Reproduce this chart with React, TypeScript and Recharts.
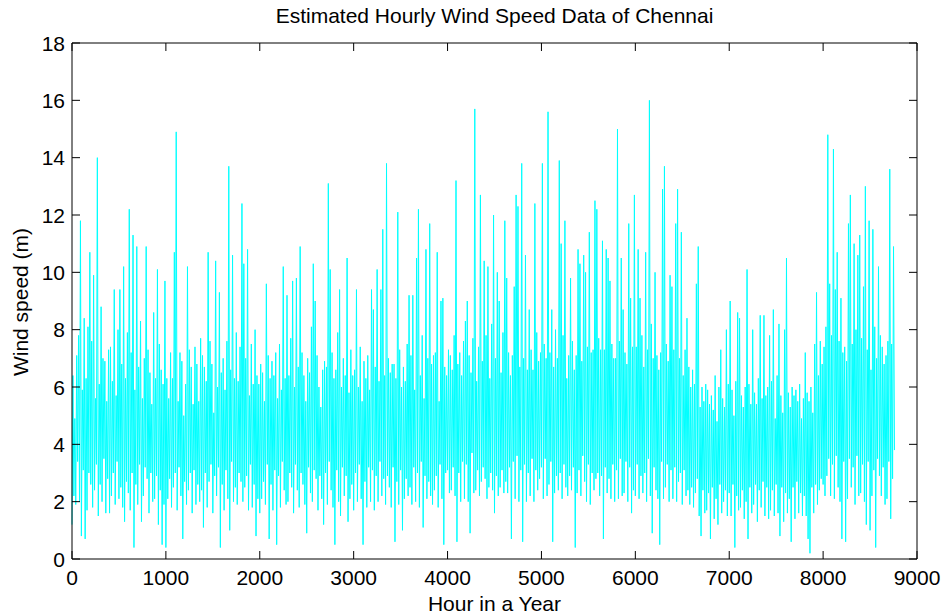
import { LineChart, Line, XAxis, YAxis, ReferenceLine } from 'recharts';

// one reading every 10 hours (peaks and dips placed where they show)
const STEP_HOURS = 10;

const speedH0000 = [
  1.2, 6.4, 2.2, 4.9, 1.9, 7.1, 3.4, 7.8, 2.0, 11.8, 0.8, 5.9, 3.1, 8.4, 0.7, 6.3, 1.7, 8.1, 3.0, 10.7,
  2.6, 7.6, 1.8, 9.9, 2.4, 5.6, 3.3, 14.0, 1.5, 6.1, 2.6, 8.8, 2.0, 7.0, 3.5, 6.9, 1.6, 5.5, 2.8, 7.3,
  1.6, 7.4, 2.2, 6.2, 3.0, 9.4, 1.9, 5.7, 3.4, 8.0, 2.1, 9.4, 2.5, 6.8, 1.8, 10.2, 1.3, 6.3, 2.7, 7.9,
  2.3, 12.2, 1.7, 7.2, 3.0, 11.3, 0.4, 5.9, 2.6, 10.9, 1.9, 6.7, 3.3, 8.3, 1.3, 5.6, 2.2, 7.0, 3.2, 10.9,
  2.8, 7.3, 1.6, 6.5, 3.0, 5.4, 2.0, 8.6, 2.1, 6.3, 2.9, 10.1, 1.2, 7.5, 2.4, 6.6, 0.5, 6.1, 1.9, 9.7,
];
const speedH1000 = [
  0.4, 6.3, 2.1, 5.6, 2.8, 7.2, 1.8, 6.3, 2.5, 10.7, 3.0, 14.9, 1.7, 5.5, 3.2, 7.2, 2.2, 6.9, 0.7, 5.0,
  2.7, 6.1, 1.9, 10.2, 2.4, 7.3, 3.0, 6.7, 1.6, 5.4, 3.1, 7.4, 1.9, 6.8, 2.6, 5.5, 2.0, 7.7, 2.4, 7.1,
  1.1, 6.7, 3.0, 6.2, 1.8, 10.7, 2.7, 7.6, 3.3, 6.8, 1.6, 5.1, 2.9, 10.4, 2.2, 6.0, 3.2, 9.3, 0.4, 6.5,
  2.6, 7.0, 1.7, 5.9, 3.1, 7.6, 2.1, 13.7, 1.0, 6.6, 3.4, 10.6, 2.0, 6.3, 2.5, 7.9, 1.9, 6.2, 3.0, 7.4,
  2.7, 12.4, 2.0, 10.3, 2.5, 7.0, 2.9, 10.8, 1.7, 5.7, 3.3, 7.5, 1.8, 6.1, 2.6, 8.0, 0.8, 6.4, 2.1, 6.1,
];
const speedH2000 = [
  1.6, 6.8, 2.1, 6.5, 2.7, 5.5, 1.9, 9.6, 3.3, 7.1, 0.7, 6.3, 2.6, 6.9, 1.7, 6.4, 3.1, 7.2, 0.5, 5.6,
  2.9, 7.5, 1.8, 5.9, 3.4, 10.2, 2.4, 6.3, 1.9, 9.2, 2.0, 6.4, 3.0, 7.7, 2.5, 9.7, 1.6, 6.0, 3.3, 9.8,
  2.4, 6.7, 1.8, 10.9, 3.0, 7.2, 2.6, 6.4, 1.9, 5.5, 0.9, 7.0, 3.2, 6.5, 2.3, 8.1, 2.0, 10.3, 3.1, 9.0,
  2.8, 7.1, 1.7, 6.0, 2.9, 5.3, 2.1, 6.6, 1.2, 6.9, 3.0, 6.7, 1.9, 13.1, 3.4, 10.1, 2.4, 7.2, 1.8, 6.3,
  0.5, 6.6, 3.1, 7.9, 2.0, 9.4, 1.5, 6.0, 3.2, 7.0, 2.2, 6.4, 2.9, 10.5, 1.3, 5.8, 2.1, 7.3, 2.6, 6.4,
];
const speedH3000 = [
  1.7, 6.6, 3.0, 9.4, 2.0, 6.0, 3.3, 7.4, 2.1, 5.5, 0.5, 6.9, 2.7, 6.3, 1.8, 7.1, 3.2, 5.9, 2.0, 9.4,
  3.1, 8.7, 1.7, 6.7, 2.9, 10.1, 2.0, 6.2, 3.4, 9.4, 2.2, 11.5, 2.8, 6.4, 1.9, 13.8, 2.9, 7.0, 2.5, 6.5,
  1.8, 6.8, 3.2, 6.8, 0.6, 6.3, 2.7, 12.1, 1.9, 7.3, 3.1, 6.0, 1.0, 6.7, 2.1, 6.2, 2.8, 7.5, 2.2, 9.2,
  2.5, 7.1, 1.9, 9.2, 3.2, 5.9, 2.0, 10.5, 3.0, 12.2, 1.8, 6.4, 3.4, 7.8, 1.1, 5.6, 2.9, 10.8, 2.1, 7.0,
  2.7, 11.7, 2.2, 6.8, 1.9, 7.1, 2.4, 7.2, 2.9, 10.7, 1.8, 5.5, 3.3, 9.0, 2.1, 9.1, 0.5, 6.7, 3.0, 6.4,
];
const speedH4000 = [
  3.1, 7.3, 2.3, 7.1, 2.4, 6.6, 3.2, 7.8, 2.2, 13.2, 0.6, 6.8, 3.0, 7.2, 2.0, 6.4, 3.4, 7.6, 2.1, 8.3,
  3.3, 9.0, 2.0, 7.1, 0.9, 6.5, 3.7, 7.7, 2.3, 15.7, 2.4, 6.2, 3.1, 7.4, 2.2, 12.7, 2.7, 6.9, 3.2, 10.4,
  2.8, 7.8, 2.1, 10.2, 2.5, 6.3, 3.0, 8.2, 2.4, 12.0, 1.6, 7.0, 2.9, 10.0, 2.2, 9.0, 2.5, 6.5, 3.1, 7.9,
  2.3, 11.8, 2.7, 9.8, 2.3, 7.2, 3.2, 6.4, 0.7, 7.1, 3.4, 9.5, 2.1, 12.7, 3.6, 12.3, 2.0, 6.7, 3.1, 13.8,
  0.6, 7.0, 3.3, 10.6, 2.0, 6.6, 3.0, 8.7, 2.2, 7.3, 3.5, 6.6, 2.0, 12.4, 3.1, 7.9, 2.4, 6.9, 2.8, 7.2,
];
const speedH5000 = [
  3.2, 13.8, 2.1, 7.5, 3.5, 7.0, 2.2, 15.6, 2.6, 7.2, 3.4, 8.7, 0.6, 6.7, 2.3, 8.0, 2.9, 7.0, 2.4, 13.9,
  3.0, 11.0, 2.1, 7.8, 3.3, 11.8, 2.5, 6.3, 2.2, 7.1, 2.9, 9.8, 2.4, 7.6, 3.2, 6.6, 0.4, 7.1, 2.3, 10.8,
  3.1, 10.3, 2.2, 6.9, 3.6, 10.6, 2.7, 10.0, 2.0, 7.4, 3.3, 11.4, 1.9, 7.2, 3.0, 7.3, 2.4, 12.5, 2.8, 12.2,
  3.0, 7.7, 2.2, 7.3, 2.9, 11.1, 0.7, 7.3, 3.2, 10.8, 2.3, 10.5, 2.8, 9.7, 2.1, 7.5, 3.3, 7.0, 2.0, 7.0,
  3.1, 15.0, 2.1, 7.6, 3.5, 10.5, 2.2, 8.7, 2.3, 7.2, 3.4, 6.8, 2.0, 11.7, 3.2, 9.1, 1.6, 7.4, 2.4, 12.7,
];
const speedH6000 = [
  2.2, 7.4, 3.3, 10.8, 2.1, 9.1, 2.9, 7.8, 2.3, 6.7, 3.0, 10.7, 2.0, 7.3, 3.5, 16.0, 2.2, 8.2, 0.9, 7.0,
  3.2, 10.0, 2.4, 7.1, 2.1, 6.6, 0.5, 7.2, 3.4, 12.9, 2.1, 13.7, 2.5, 7.5, 3.3, 6.9, 2.0, 9.9, 3.1, 9.5,
  2.1, 7.3, 3.2, 11.7, 2.0, 12.9, 2.7, 7.0, 3.0, 11.4, 1.9, 6.4, 3.1, 7.3, 2.2, 8.4, 2.4, 6.7, 1.9, 6.0,
  2.5, 6.6, 1.8, 6.1, 2.3, 9.6, 2.8, 10.9, 1.5, 5.3, 0.8, 6.0, 2.4, 5.5, 1.6, 6.1, 1.7, 5.9, 2.3, 5.4,
  0.7, 5.7, 2.5, 5.2, 1.4, 6.4, 2.1, 4.8, 1.2, 6.0, 2.6, 7.3, 1.6, 5.6, 2.0, 5.3, 2.4, 8.0, 1.5, 6.1,
];
const speedH7000 = [
  2.3, 9.0, 1.5, 5.9, 2.6, 5.0, 0.4, 6.2, 2.2, 8.6, 1.7, 8.4, 1.8, 5.7, 2.4, 5.3, 1.4, 6.0, 2.0, 10.1,
  0.7, 6.1, 2.5, 5.4, 1.6, 8.0, 1.9, 5.8, 2.6, 5.4, 1.3, 6.3, 2.4, 8.5, 1.8, 5.6, 2.7, 8.5, 1.5, 5.7,
  2.5, 6.0, 1.4, 7.8, 1.7, 6.2, 2.4, 8.7, 1.5, 4.9, 2.6, 6.4, 1.6, 8.2, 0.8, 5.7, 2.5, 5.1, 1.3, 8.0,
  2.3, 10.5, 1.6, 5.8, 2.1, 5.3, 0.6, 6.0, 2.5, 5.7, 1.4, 5.9, 2.7, 5.5, 1.6, 6.1, 2.3, 4.9, 1.5, 5.6,
  2.2, 7.2, 1.5, 5.8, 0.7, 5.5, 0.2, 6.0, 2.5, 5.1, 1.6, 7.5, 2.6, 9.3, 1.9, 6.4, 2.4, 7.6, 2.8, 6.8,
];
const speedH8000 = [
  2.6, 7.4, 2.2, 8.1, 2.9, 14.8, 3.5, 9.6, 2.2, 7.8, 3.3, 14.3, 2.1, 9.4, 3.6, 10.7, 2.5, 7.6, 2.0, 9.1,
  0.7, 7.2, 3.4, 7.4, 0.6, 6.9, 2.1, 11.7, 3.5, 12.7, 2.5, 7.5, 3.2, 11.0, 1.9, 8.0, 3.6, 10.6, 2.2, 11.3,
  2.3, 7.7, 3.3, 9.5, 2.0, 13.0, 1.2, 7.3, 3.4, 11.8, 1.0, 6.6, 2.2, 11.5, 3.1, 8.1, 0.4, 7.0, 3.5, 10.2,
  2.9, 7.8, 2.2, 7.4, 3.2, 6.8, 1.9, 7.1, 2.1, 7.6, 3.4, 13.6, 1.4, 7.5, 2.8, 10.9, 3.8,
];

const xTicks = [0, 1000, 2000, 3000, 4000, 5000, 6000, 7000, 8000, 9000];
const yTicks = [0, 2, 4, 6, 8, 10, 12, 14, 16, 18];

const speeds = [
  ...speedH0000, ...speedH1000, ...speedH2000, ...speedH3000, ...speedH4000,
  ...speedH5000, ...speedH6000, ...speedH7000, ...speedH8000,
];
const data = speeds.map((v, i) => ({ hour: i * STEP_HOURS, speed: v }));

const FONT = '"Liberation Sans", Arial, Helvetica, sans-serif';
const FONT_SIZE = 21;
const TICK_LEN = 8;
const PLOT_LEFT = 72;
const PLOT_RIGHT = 917;
const PLOT_TOP = 43;
const PLOT_BOTTOM = 559;

// matlab style: ticks point inward, on both sides of the box
const XTick = (props: any) => {
  const { x, payload } = props;
  return (
    <g>
      <line x1={x} y1={PLOT_BOTTOM} x2={x} y2={PLOT_BOTTOM - TICK_LEN} stroke="#000" />
      <line x1={x} y1={PLOT_TOP} x2={x} y2={PLOT_TOP + TICK_LEN} stroke="#000" />
      <text x={x} y={PLOT_BOTTOM + 26} textAnchor="middle" fontSize={FONT_SIZE} fontFamily={FONT} fill="#000">
        {payload.value}
      </text>
    </g>
  );
};

const YTick = (props: any) => {
  const { y, payload } = props;
  return (
    <g>
      <line x1={PLOT_LEFT} y1={y} x2={PLOT_LEFT + TICK_LEN} y2={y} stroke="#000" />
      <line x1={PLOT_RIGHT} y1={y} x2={PLOT_RIGHT - TICK_LEN} y2={y} stroke="#000" />
      <text x={PLOT_LEFT - 7} y={y + 7.5} textAnchor="end" fontSize={FONT_SIZE} fontFamily={FONT} fill="#000">
        {payload.value}
      </text>
    </g>
  );
};

export default function App() {
  return (
    <div style={{ position: 'absolute', left: 0, top: 0, width: 944, height: 615, background: '#fff', fontFamily: FONT }}>
      <LineChart
        width={944}
        height={615}
        data={data}
        margin={{ top: PLOT_TOP, right: 944 - PLOT_RIGHT, left: 0, bottom: 0 }}
      >
        <XAxis
          dataKey="hour"
          type="number"
          domain={[0, 9000]}
          ticks={xTicks}
          height={615 - PLOT_BOTTOM}
          tickLine={false}
          axisLine={{ stroke: '#000' }}
          tick={<XTick />}
          interval={0}
        />
        <YAxis
          type="number"
          domain={[0, 18]}
          ticks={yTicks}
          width={PLOT_LEFT}
          tickLine={false}
          axisLine={{ stroke: '#000' }}
          tick={<YTick />}
          interval={0}
        />
        <ReferenceLine y={18} stroke="#000" strokeWidth={1} ifOverflow="extendDomain" />
        <ReferenceLine x={9000} stroke="#000" strokeWidth={1} ifOverflow="extendDomain" />
        <Line
          type="linear"
          dataKey="speed"
          stroke="#00ffff"
          strokeWidth={1}
          strokeLinejoin="miter"
          dot={false}
          isAnimationActive={false}
        />
      </LineChart>
      <div style={{ position: 'absolute', left: 0, width: 989, top: 4, textAlign: 'center', fontSize: FONT_SIZE, color: '#000' }}>
        Estimated Hourly Wind Speed Data of Chennai
      </div>
      <div style={{ position: 'absolute', left: 0, width: 989, top: 592, textAlign: 'center', fontSize: FONT_SIZE, color: '#000' }}>
        Hour in a Year
      </div>
      <div
        style={{
          position: 'absolute',
          left: 21,
          top: 302,
          transform: 'translate(-50%, -50%) rotate(-90deg)',
          whiteSpace: 'nowrap',
          fontSize: FONT_SIZE,
          color: '#000',
        }}
      >
        Wind speed (m)
      </div>
    </div>
  );
}
